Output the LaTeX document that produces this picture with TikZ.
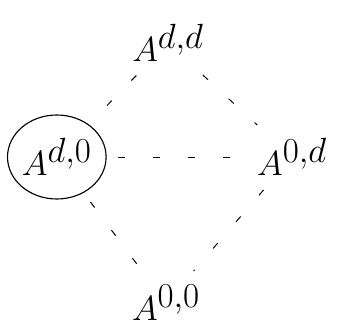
\documentclass[tikz,border=0pt]{standalone}
\usepackage{amsmath,amssymb}
\usepackage{tikz}
\usetikzlibrary{positioning, shapes.geometric}

\begin{document}
\begin{tikzpicture}[
    vtx/.style={font=\fontsize{46}{50}\selectfont, inner sep=4pt},
    picked/.style={vtx, draw, ellipse, line width=0.8pt, minimum width=2.15cm, minimum height=2.1cm, inner sep=0pt},
    lnk/.style={line width=0.7pt, dash pattern=on 5pt off 20pt, shorten <=8pt, shorten >=8pt},
]
\useasboundingbox (0,0) rectangle (8.75,8.225);

% corners of the square
\node[vtx] (dd) at (4.2,7.15) {$A^{d,d}$};
\node[picked] (d0) at (1.42,4.3) {$A^{d,0}$};
\node[vtx] (0d) at (7.3,4.3) {$A^{0,d}$};
\node[vtx] (00) at (4.15,0.65) {$A^{0,0}$};

% dashed edges
\draw[lnk] (dd) -- (d0);
\draw[lnk] (dd) -- (0d);
\draw[lnk] (d0) -- (0d);
\draw[lnk] (d0) -- (00);
\draw[lnk] (0d) -- (00);

\end{tikzpicture}
\end{document}
